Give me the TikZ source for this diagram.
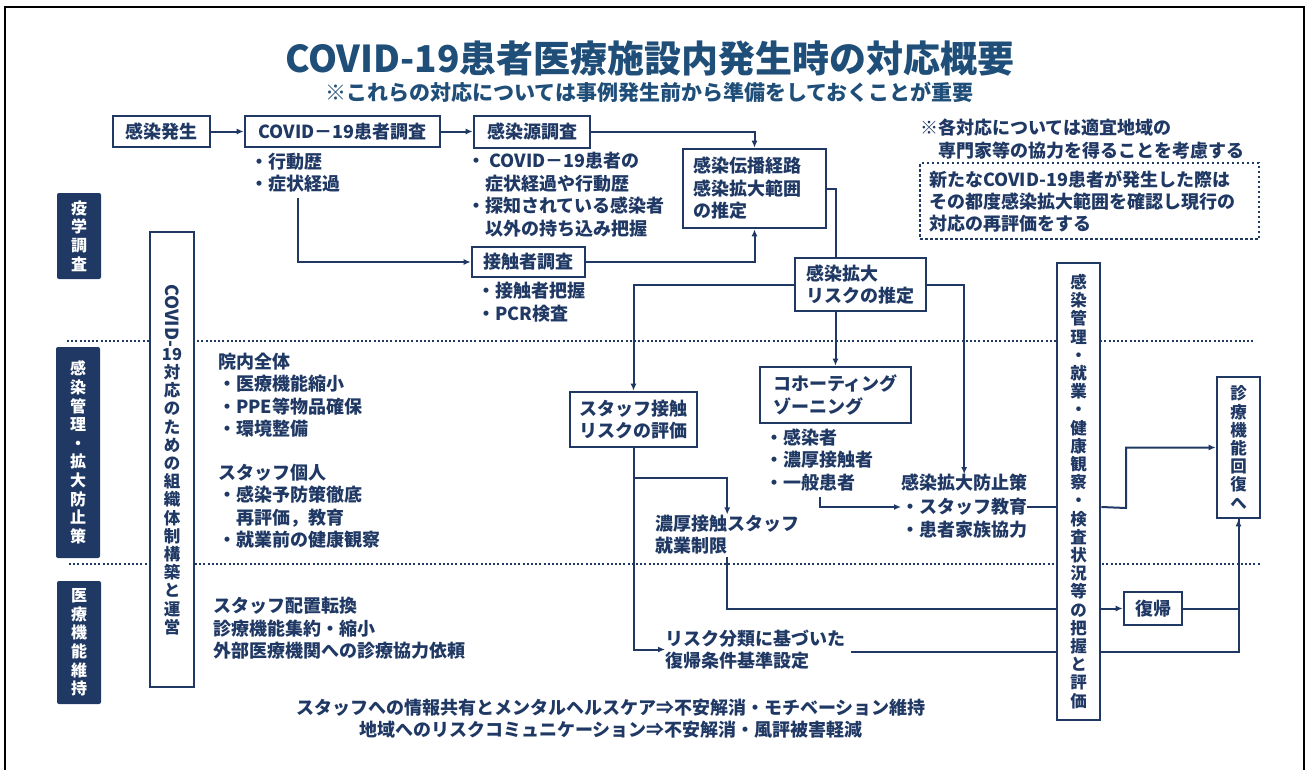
\documentclass[tikz,border=0pt]{standalone}
\usepackage{fontspec}
\setmainfont{Noto Sans CJK JP}
\usepackage{graphicx}
\usetikzlibrary{arrows.meta}
\definecolor{navy}{HTML}{1F3864}
\definecolor{titleblue}{HTML}{1F4E79}

\begin{document}
\begin{tikzpicture}[x=1pt, y=-1pt,
    box/.style={draw=navy, line width=2.6pt, fill=white, text=navy, inner sep=0pt, align=left, font=\bfseries\fontsize{18}{22.5}\selectfont},
    tag/.style={fill=navy, rounded corners=2pt, text=white, inner sep=0pt, minimum width=44, align=center, font=\bfseries\fontsize{16}{18.6}\selectfont},
    vbox/.style={box, align=center, minimum width=43, font=\bfseries\fontsize{16.5}{18.2}\selectfont},
    txt/.style={anchor=west, inner sep=0pt, text=navy, align=left, font=\bfseries\fontsize{18}{22.5}\selectfont},
    conn/.style={draw=navy, line width=2pt},
    arr/.style={conn, -{Latex[length=7pt,width=6pt]}},
    dotline/.style={navy, line width=2pt, dash pattern=on 2pt off 2.2pt}]
    \useasboundingbox (0,0) rectangle (1307,769);
    \draw[line width=2.5pt] (5,775) -- (5,7) -- (1304,7) -- (1304,775);

    % separators
    \draw[dotline] (67,341) -- (1254,341);
    \draw[dotline] (69,564) -- (1260,564);

    % title
    \node[text=titleblue, font=\bfseries\fontsize{37}{40}\selectfont] (title) at (650,59) {COVID-19患者医療施設内発生時の対応概要};
    \node[text=titleblue, font=\bfseries\fontsize{21}{24}\selectfont] (subtitle) at (649.5,92) {※これらの対応については事例発生前から準備をしておくことが重要};
    \node[txt] (note) at (920,139) {※各対応については適宜地域の\\\hspace*{1em}専門家等の協力を得ることを考慮する};
    \node[draw=navy, line width=2.5pt, dash pattern=on 2.5pt off 2.5pt, text=navy, align=left, text width=321, inner xsep=9pt, inner ysep=0pt, minimum height=76, font=\bfseries\fontsize{18}{22}\selectfont] (saihyoka) at (1089.5,201) {新たなCOVID-19患者が発生した際は\\その都度感染拡大範囲を確認し現行の\\対応の再評価をする};

    % left column
    \node[tag, minimum height=86] (ekigaku) at (79,236) {疫\\学\\調\\査};
    \node[tag, minimum height=211] (kanri) at (78,452.5) {感\\染\\管\\理\\・\\拡\\大\\防\\止\\策};
    \node[tag, minimum height=123] (iji) at (79,642.5) {医\\療\\機\\能\\維\\持};
    \node[vbox, minimum width=44, minimum height=455] (soshiki) at (172,459.5) {\rotatebox{-90}{\fontsize{18}{20}\selectfont COVID-}\\19\\対\\応\\の\\た\\め\\の\\組\\織\\体\\制\\構\\築\\と\\運\\営};

    \node[txt] (innai) at (218,395) {院内全体\\・医療機能縮小\\・PPE等物品確保\\・環境整備};
    \node[txt] (kojin) at (218,506) {スタッフ個人\\・感染予防策徹底\\\hspace*{1em}再評価，教育\\・就業前の健康観察};
    \node[txt] (haichi) at (213,628.5) {スタッフ配置転換\\診療機能集約・縮小\\外部医療機関への診療協力依頼};

    % investigation
    \node[box, minimum width=97, minimum height=31] (hassei) at (161.5,131.5) {感染発生};
    \node[box, minimum width=195, minimum height=31] (chosa) at (342.5,131.5) {COVID－19患者調査};
    \node[box, minimum width=116, minimum height=32] (gensen) at (532,132) {感染源調査};
    \node[box, text width=123, inner xsep=10pt, minimum height=79] (denpa) at (754.5,188.5) {感染伝播経路\\感染拡大範囲\\の推定};
    \node[box, minimum width=113, minimum height=30] (sesshoku) at (528.5,262) {接触者調査};
    \node[box, minimum width=131, minimum height=53] (kakudai) at (860.5,284.5) {感染拡大\\リスクの推定};

    \node[txt] (kodo) at (250,172.5) {・行動歴\\・症状経過};
    \node[txt] (gensentxt) at (467,194.5) {・ COVID－19患者の\\\hspace*{1em}症状経過や行動歴\\・探知されている感染者\\\hspace*{1em}以外の持ち込み把握};
    \node[txt] (haaku) at (477,302) {・接触者把握\\・PCR検査};

    % measures
    \node[box, minimum width=127, minimum height=55] (staff) at (633.5,419.5) {スタッフ接触\\リスクの評価};
    \node[box, minimum width=151, minimum height=56] (cohort) at (835.5,395) {コホーティング\\ゾーニング};
    \node[txt] (kanja) at (765,460) {・感染者\\・濃厚接触者\\・一般患者};
    \node[txt] (boshi) at (901,483) {感染拡大防止策};
    \node[txt] (kyoiku) at (901,507) {・スタッフ教育};
    \node[txt] (kazoku) at (901,530) {・患者家族協力};
    \node[txt] (seigen) at (655,534.5) {濃厚接触スタッフ\\就業制限};
    \node[txt] (joken) at (665,649.5) {リスク分類に基づいた\\復帰条件基準設定};
    \node[box, minimum width=58, minimum height=33] (fukki) at (1153,608.5) {復帰};
    \node[vbox, minimum height=141] (kaifuku) at (1238.5,447.5) {診\\療\\機\\能\\回\\復\\へ};

    % bottom
    \node[text=navy, align=center, inner sep=0pt, font=\bfseries\fontsize{18}{22}\selectfont] (kyoyu) at (611,719) {スタッフへの情報共有とメンタルヘルスケア⇒不安解消・モチベーション維持\\地域へのリスクコミュニケーション⇒不安解消・風評被害軽減};

    \coordinate (c1) at (298,198);
    \coordinate (j1) at (836,189);
    \coordinate (b1) at (634,478);
    \coordinate (c2) at (727,557);
    \coordinate (c3) at (851,652);
    \coordinate (c4) at (820,497);
    \coordinate (c5) at (1126,508);

    \draw[arr] (hassei) -- (chosa);
    \draw[arr] (chosa.east) -- (chosa.east -| gensen.west);
    \draw[arr] (gensen.east) -| (denpa.north);
    \draw[arr] (c1) |- (sesshoku.west);
    \draw[arr] (sesshoku.east) -| (denpa.south);
    \draw[conn] (denpa.east |- j1) -- (j1) -- (j1 |- kakudai.north);
    \draw[arr] (kakudai.west) -| (staff.north);
    \draw[arr] (kakudai.east) -| (boshi.north);
    \draw[arr] (kakudai.south -| cohort.north) -- (cohort.north);
    \draw[arr] (staff.south) |- (joken.west);
    \draw[arr] (b1) -| (seigen.north);
    \draw[arr] (c4) |- (kyoiku.west);
    \draw[arr] (c2) |- (fukki.west);
    \draw[conn] (c3) -| (kaifuku.south);
    \draw[arr] (fukki.east) -| (kaifuku.south);

    \node[vbox, minimum height=457] (hyoka) at (1078.5,491.5) {感\\染\\管\\理\\・\\就\\業\\・\\健\\康\\観\\察\\・\\検\\査\\状\\況\\等\\の\\把\\握\\と\\評\\価};
    \draw[conn] (kyoiku.east) -- (kyoiku.east -| hyoka.west);
    \draw[arr] (kyoiku.east -| hyoka.east) -- (c5) |- (kaifuku.west);
\end{tikzpicture}
\end{document}
